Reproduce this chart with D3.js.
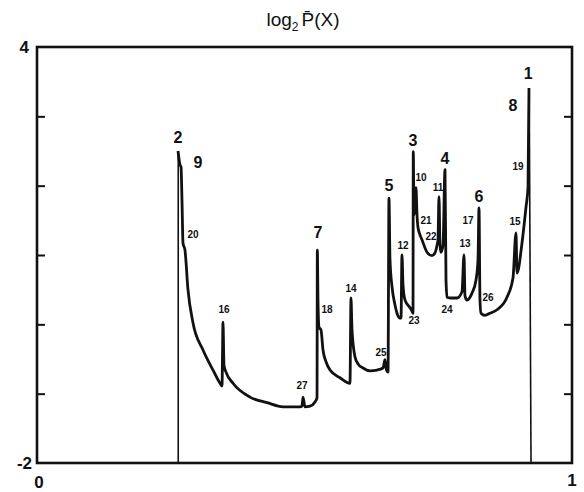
<!DOCTYPE html>
<html>
<head>
<meta charset="utf-8">
<script src="https://cdn.jsdelivr.net/npm/d3@7"></script>
<style>
  body { margin: 0; background: #fff; }
  text { font-family: "Liberation Sans", Arial, sans-serif; fill: #111; }
</style>
</head>
<body>
<div id="grafico"></div>
<script>
// Curva log2 P(x)
const curveX = [0.2636, 0.2673, 0.2692, 0.2710, 0.2729, 0.2766, 0.2822, 0.2916, 0.3103, 0.3290,
  0.3421, 0.3458, 0.3477, 0.3495, 0.3533, 0.3664, 0.3981, 0.4299, 0.4598, 0.4916,
  0.4953, 0.4972, 0.5009, 0.5103, 0.5196, 0.5234, 0.5240, 0.5252, 0.5271, 0.5308,
  0.5346, 0.5402, 0.5477, 0.5664, 0.5850, 0.5869, 0.5888, 0.5944, 0.6000, 0.6093,
  0.6224, 0.6355, 0.6467, 0.6505, 0.6523, 0.6561, 0.6579, 0.6598, 0.6636, 0.6692,
  0.6729, 0.6785, 0.6804, 0.6822, 0.6841, 0.6879, 0.6972, 0.7009, 0.7028, 0.7033,
  0.7047, 0.7084, 0.7103, 0.7121, 0.7159, 0.7196, 0.7290, 0.7383, 0.7439, 0.7477,
  0.7495, 0.7514, 0.7533, 0.7551, 0.7589, 0.7626, 0.7645, 0.7664, 0.7720, 0.7850,
  0.7944, 0.7981, 0.8000, 0.8037, 0.8131, 0.8206, 0.8243, 0.8262, 0.8280, 0.8299,
  0.8374, 0.8467, 0.8598, 0.8785, 0.8897, 0.8953, 0.8972, 0.9065, 0.9140, 0.9178,
  0.9196];
const curveY = [2.50, 2.30, 2.27, 1.79, 1.17, 1.07, 0.50, 0.02, -0.37, -0.66,
  -0.85, -0.89, 0.03, -0.59, -0.69, -0.85, -1.05, -1.13, -1.19, -1.19,
  -1.18, -1.05, -1.19, -1.18, -1.12, -1.06, 1.07, 0.35, -0.04, -0.08,
  -0.37, -0.54, -0.66, -0.77, -0.85, 0.38, -0.08, -0.47, -0.57, -0.63,
  -0.67, -0.66, -0.63, -0.51, -0.63, -0.69, 1.82, 0.93, 0.54, 0.28,
  0.16, 0.09, 0.09, 1.00, 0.57, 0.35, 0.24, 0.19, 0.16, 2.49,
  1.58, 1.97, 1.58, 1.40, 1.29, 1.22, 1.04, 0.99, 1.03, 1.14,
  1.22, 1.84, 1.14, 1.04, 1.14, 2.23, 0.64, 0.39, 0.38, 0.38,
  0.47, 1.00, 0.41, 0.35, 0.45, 0.64, 0.93, 1.68, 0.35, 0.16,
  0.13, 0.16, 0.21, 0.39, 0.67, 1.32, 0.74, 1.17, 1.69, 1.98,
  3.41];

// Caidas verticales en los extremos del soporte
const dropX = [[0.2640, 0.2640], [0.9200, 0.9234]];
const dropY = [[-2, 2.50], [3.41, -2]];

// Etiquetas de los picos
const labelText = ["1", "2", "3", "4", "5", "6", "7", "8", "9", "10", "11", "12", "13", "14",
  "15", "16", "17", "18", "19", "20", "21", "22", "23", "24", "25", "26", "27"];
const labelX = [0.918, 0.2636, 0.7028, 0.7626, 0.6579, 0.8262, 0.5252, 0.8897, 0.3009, 0.7178,
  0.7495, 0.6841, 0.8000, 0.5869, 0.8935, 0.3495, 0.8056, 0.5421, 0.8991, 0.2916,
  0.7271, 0.7364, 0.7047, 0.7664, 0.6430, 0.8430, 0.4953];
const labelY = [3.62, 2.69, 2.66, 2.40, 2.00, 1.84, 1.32, 3.16, 2.33, 2.12,
  1.97, 1.13, 1.16, 0.52, 1.48, 0.22, 1.50, 0.21, 2.27, 1.30,
  1.50, 1.27, 0.05, 0.21, -0.40, 0.39, -0.88];

const yTicks = [-1, 0, 1, 2, 3];
const xDomain = [0, 1];
const yDomain = [-2, 4];

const margin = { top: 47, right: 12, bottom: 29, left: 37 };
const width = 584 - margin.left - margin.right;
const height = 492 - margin.top - margin.bottom;

const root = d3.select("#grafico")
  .append("svg")
  .attr("width", 584)
  .attr("height", 492);

const svg = root.append("g")
  .attr("transform", `translate(${margin.left},${margin.top})`);

const x = d3.scaleLinear().domain(xDomain).range([0, width]);
const y = d3.scaleLinear().domain(yDomain).range([height, 0]);

// Titulo
const title = root.append("text")
  .attr("x", 303)
  .attr("y", 26)
  .attr("text-anchor", "middle")
  .style("font-size", "19px");
title.append("tspan").text("log");
title.append("tspan").attr("dy", 5).style("font-size", "12px").text("2");
title.append("tspan").attr("dy", -5).attr("dx", 3).text("P\u0304(X)");

// Ticks hacia dentro, izquierda y derecha
svg.append("g")
  .call(d3.axisLeft(y).tickValues(yTicks).tickSize(-8).tickFormat(""))
  .call(g => g.select(".domain").remove())
  .selectAll("line").attr("stroke", "#111").attr("stroke-width", 2);

svg.append("g")
  .attr("transform", `translate(${width},0)`)
  .call(d3.axisRight(y).tickValues(yTicks).tickSize(-8).tickFormat(""))
  .call(g => g.select(".domain").remove())
  .selectAll("line").attr("stroke", "#111").attr("stroke-width", 2);

// Marco
svg.append("rect")
  .attr("x", 0).attr("y", 0)
  .attr("width", width).attr("height", height)
  .attr("fill", "none")
  .attr("stroke", "#111")
  .attr("stroke-width", 2.6);

// Etiquetas de los extremos
svg.append("text").attr("x", -8).attr("y", y(4) + 6)
  .attr("text-anchor", "end").style("font-size", "17px").style("font-weight", "bold").text("4");
svg.append("text").attr("x", -5).attr("y", y(-2) + 6)
  .attr("text-anchor", "end").style("font-size", "17px").style("font-weight", "bold").text("-2");
svg.append("text").attr("x", x(0) + 2).attr("y", height + 25)
  .attr("text-anchor", "middle").style("font-size", "17px").style("font-weight", "bold").text("0");
svg.append("text").attr("x", x(1)).attr("y", height + 23)
  .attr("text-anchor", "middle").style("font-size", "17px").style("font-weight", "bold").text("1");

// Caidas
const line = d3.line().x(d => x(d[0])).y(d => y(d[1]));

dropX.forEach((dx, i) => {
  svg.append("path")
    .datum(dx.map((v, j) => [v, dropY[i][j]]))
    .attr("d", line)
    .attr("fill", "none")
    .attr("stroke", "#111")
    .attr("stroke-width", 1.6);
});

// Curva
const curve = d3.line()
  .x(d => x(d[0]))
  .y(d => y(d[1]))
  .curve(d3.curveMonotoneX);

svg.append("path")
  .datum(curveX.map((v, i) => [v, curveY[i]]))
  .attr("d", curve)
  .attr("fill", "none")
  .attr("stroke", "#111")
  .attr("stroke-width", 2.8)
  .attr("stroke-linejoin", "round");

// Numeros de los picos
svg.selectAll(".lbl")
  .data(labelText)
  .enter()
  .append("text")
  .attr("class", "lbl")
  .attr("x", (d, i) => x(labelX[i]))
  .attr("y", (d, i) => y(labelY[i]))
  .attr("dy", "0.35em")
  .attr("text-anchor", "middle")
  .style("font-size", d => d.length > 1 ? "10px" : "16px")
  .style("font-weight", "bold")
  .text(d => d);
</script>
</body>
</html>
